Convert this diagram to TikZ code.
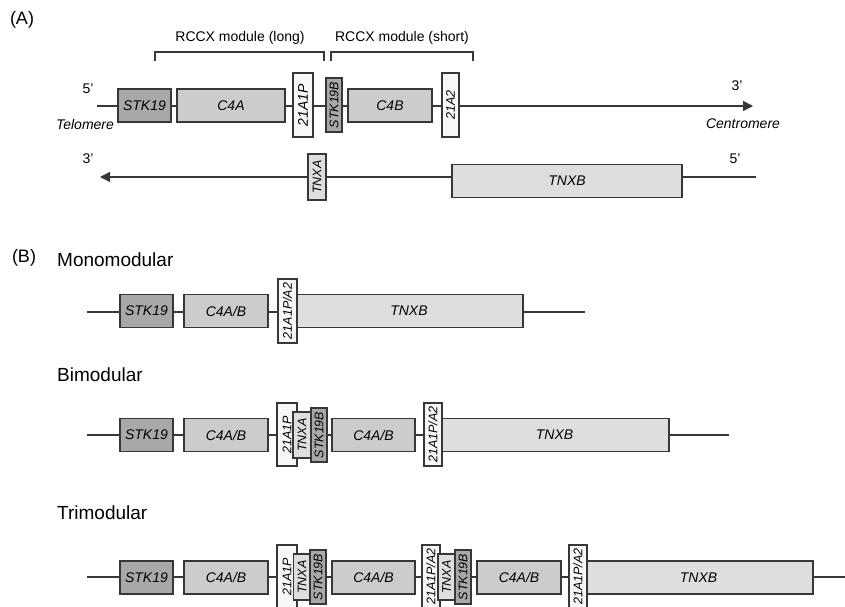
\documentclass[tikz,border=0pt]{standalone}
\usepackage{fontspec}
\setmainfont{Liberation Sans}
\usetikzlibrary{arrows.meta}
\definecolor{linegray}{RGB}{55,55,55}
\definecolor{stkcolor}{RGB}{168,168,168}
\definecolor{c4color}{RGB}{204,204,204}
\definecolor{tnxcolor}{RGB}{221,222,221}
\definecolor{cypcolor}{RGB}{246,247,246}

\begin{document}
\begin{tikzpicture}[
    x=1pt, y=-1pt,
    gene/.style={rectangle, draw=linegray, line width=1.3pt, inner sep=0pt, font={\fontsize{14}{16}\selectfont\itshape}},
    hgene/.style={gene, minimum height=33pt},
    vgene/.style={gene, rotate=90, font={\fontsize{12.5}{14}\selectfont\itshape}},
    stk/.style={fill=stkcolor},
    cfour/.style={fill=c4color},
    tnx/.style={fill=tnxcolor},
    cyp/.style={fill=cypcolor},
    strand/.style={draw=linegray, line width=1.3pt},
    brace/.style={draw=linegray, line width=1.5pt},
    tag/.style={inner sep=0pt, font={\fontsize{14}{16}\selectfont}},
    section/.style={inner sep=0pt, anchor=west, font={\fontsize{19}{22}\selectfont}}
]
\clip (0,0) rectangle (845,607);

% (A) both strands
\node[tag, font={\fontsize{18}{20}\selectfont}] (A) at (22,20) {(A)};
\node[tag] (long) at (240,38) {RCCX module (long)};
\node[tag] (short) at (402,38) {RCCX module (short)};
\draw[brace] (155,61) -- (155,52) -- (324,52) -- (324,61);
\draw[brace] (331,61) -- (331,52) -- (473,52) -- (473,61);

\coordinate (a0) at (97,106);
\coordinate (a1) at (753,106);
\draw[strand, -{Triangle[length=10pt, width=10pt]}] (a0) -- (a1);

\node[hgene, stk, minimum width=53pt] (a_stk) at (144.5,105.5) {STK19};
\node[hgene, cfour, minimum width=108pt] (a_c4a) at (231,105.5) {C4A};
\node[vgene, cyp, minimum width=64pt, minimum height=20pt, font={\fontsize{14}{16}\selectfont\itshape}] (a_cypp) at (303,105) {21A1P};
\node[vgene, stk, minimum width=54pt, minimum height=16pt] (a_stkb) at (334,105) {STK19B};
\node[hgene, cfour, minimum width=84pt] (a_c4b) at (390,105.5) {C4B};
\node[vgene, cyp, minimum width=64pt, minimum height=17pt] (a_cyp) at (450.5,105) {21A2};

\node[tag] (a5) at (88,89) {5'};
\node[tag] (a3) at (737,86) {3'};
\node[tag, font={\fontsize{14}{16}\selectfont\itshape}] (telo) at (85,124) {Telomere};
\node[tag, font={\fontsize{14}{16}\selectfont\itshape}] (centro) at (743,124) {Centromere};

\coordinate (b0) at (756,177);
\coordinate (b1) at (100,177);
\draw[strand, -{Triangle[length=10pt, width=10pt]}] (b0) -- (b1);
\node[vgene, tnx, minimum width=46pt, minimum height=18pt] (b_tnxa) at (317,177) {TNXA};
\node[hgene, tnx, minimum width=230pt] (b_tnxb) at (567,181) {TNXB};
\node[tag] (b3) at (88,159) {3'};
\node[tag] (b5) at (735,159) {5'};

% (B) monomodular
\node[tag, font={\fontsize{18}{20}\selectfont}] (B) at (24,258) {(B)};
\node[section] (mono) at (57,260) {Monomodular};
\coordinate (m0) at (87,312);
\coordinate (m1) at (585,312);
\draw[strand] (m0) -- (m1);
\node[hgene, stk, minimum width=53pt] (m_stk) at (146.5,311) {STK19};
\node[hgene, cfour, minimum width=84pt] (m_c4) at (226,311) {C4A/B};
\node[hgene, tnx, minimum width=228pt] (m_tnxb) at (409,311) {TNXB};
\node[vgene, cyp, minimum width=64pt, minimum height=19pt] (m_cyp) at (287.5,311) {21A1P/A2};

% bimodular
\node[section] (bi) at (57,375) {Bimodular};
\coordinate (d0) at (87,435);
\coordinate (d1) at (729,435);
\draw[strand] (d0) -- (d1);
\node[hgene, stk, minimum width=53pt] (d_stk) at (146.5,435) {STK19};
\node[hgene, cfour, minimum width=84pt] (d_c4) at (226,435) {C4A/B};
\node[vgene, cyp, minimum width=63pt, minimum height=20pt] (d_cypp) at (287,434.5) {21A1P};
\node[vgene, tnx, minimum width=46pt, minimum height=18pt] (d_tnxa) at (302,435) {TNXA};
\node[vgene, stk, minimum width=54pt, minimum height=16pt] (d_stkb) at (319,435) {STK19B};
\node[hgene, cfour, minimum width=83pt] (d_c4b) at (373.5,435) {C4A/B};
\node[hgene, tnx, minimum width=229pt] (d_tnxb) at (554.5,435) {TNXB};
\node[vgene, cyp, minimum width=63pt, minimum height=18pt] (d_cyp) at (433,434.5) {21A1P/A2};

% trimodular
\node[section] (tri) at (57,513) {Trimodular};
\coordinate (t0) at (87,577);
\coordinate (t1) at (850,577);
\draw[strand] (t0) -- (t1);
\node[hgene, stk, minimum width=53pt] (t_stk) at (146.5,577.5) {STK19};
\node[hgene, cfour, minimum width=84pt] (t_c4) at (226,577.5) {C4A/B};
\node[vgene, cyp, minimum width=63pt, minimum height=20pt] (t_cypp) at (287,576.5) {21A1P};
\node[vgene, tnx, minimum width=46pt, minimum height=17pt] (t_tnxa) at (302,577) {TNXA};
\node[vgene, stk, minimum width=54pt, minimum height=16pt] (t_stkb) at (318,577) {STK19B};
\node[hgene, cfour, minimum width=83pt] (t_c4b) at (373.5,577.5) {C4A/B};
\node[vgene, cyp, minimum width=63pt, minimum height=18pt] (t_cyp1) at (431,576.5) {21A1P/A2};
\node[vgene, tnx, minimum width=46pt, minimum height=17pt] (t_tnxa2) at (446.5,577) {TNXA};
\node[vgene, stk, minimum width=54pt, minimum height=16pt] (t_stkb2) at (463,577) {STK19B};
\node[hgene, cfour, minimum width=84pt] (t_c4c) at (519,577.5) {C4A/B};
\node[hgene, tnx, minimum width=229pt] (t_tnxb) at (698.5,577.5) {TNXB};
\node[vgene, cyp, minimum width=63pt, minimum height=18pt] (t_cyp2) at (578,576.5) {21A1P/A2};

\end{tikzpicture}
\end{document}
